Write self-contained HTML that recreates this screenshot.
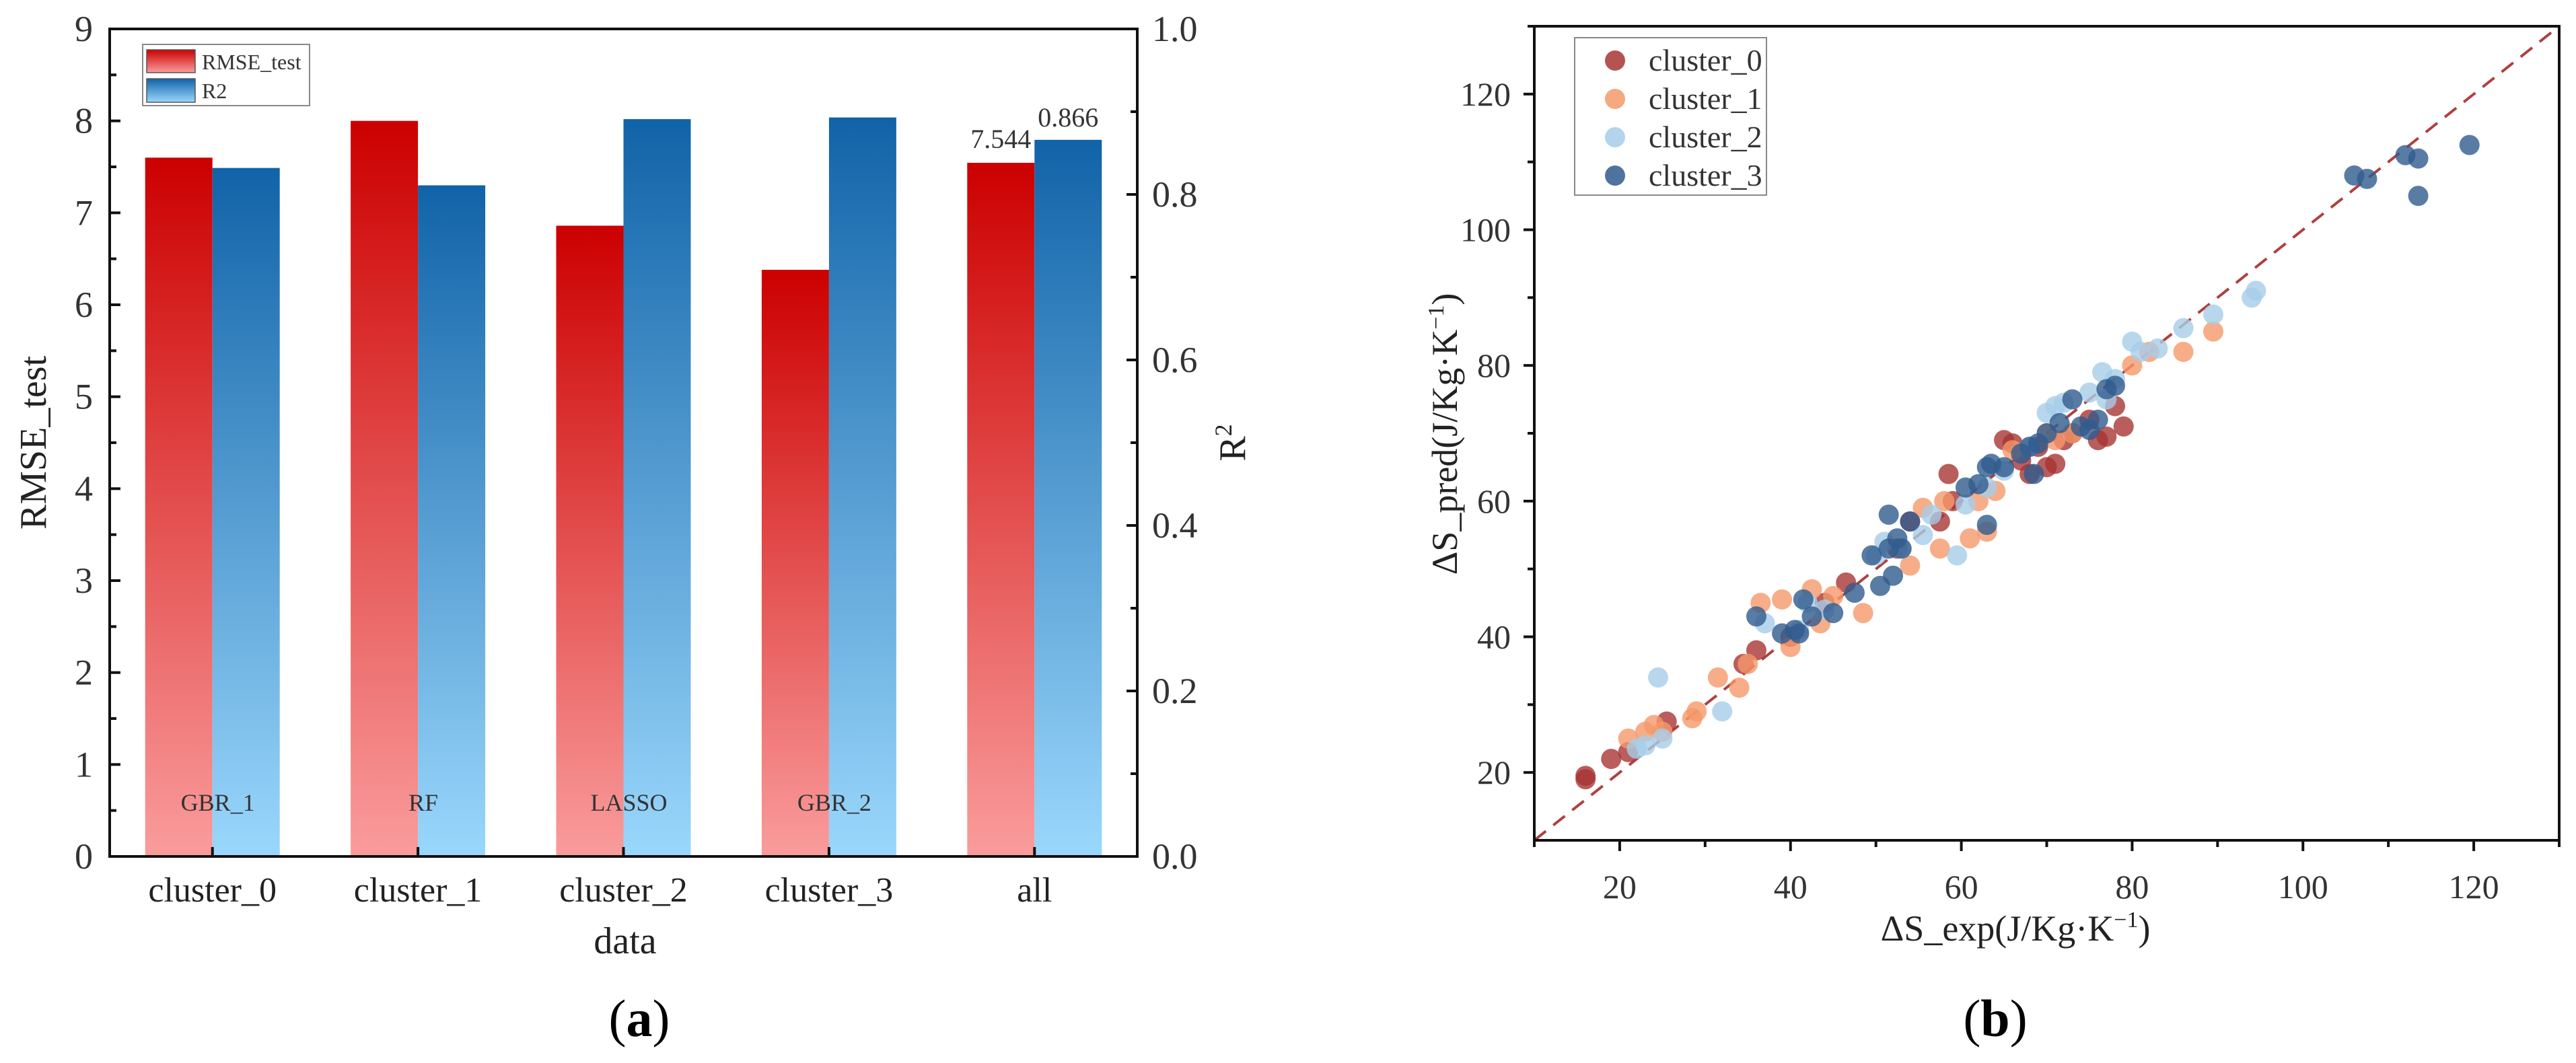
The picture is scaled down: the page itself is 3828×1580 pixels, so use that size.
<!DOCTYPE html>
<html><head><meta charset="utf-8"><style>
html,body{margin:0;padding:0;background:#fff;}
svg{display:block;font-family:"Liberation Serif",serif;}
</style></head><body>
<svg id="root" width="3828" height="1580" viewBox="0 0 3828 1580" xmlns="http://www.w3.org/2000/svg">
<defs>
<linearGradient id="gRed" x1="0" y1="0" x2="0" y2="1"><stop offset="0" stop-color="#cc0000"/><stop offset="1" stop-color="#fa9c9c"/></linearGradient>
<linearGradient id="gBlue" x1="0" y1="0" x2="0" y2="1"><stop offset="0" stop-color="#1163a8"/><stop offset="1" stop-color="#9ad7fc"/></linearGradient>
</defs>
<g id="chartA"></g>
<g id="chartB"></g>
<text x="950" y="1540" font-size="78" text-anchor="middle">(<tspan font-weight="bold">a</tspan>)</text>
<text x="2965" y="1540" font-size="78" text-anchor="middle">(<tspan font-weight="bold">b</tspan>)</text>
</svg>
<script>
// ---- Chart A data ----
const categories = ["cluster_0","cluster_1","cluster_2","cluster_3","all"];
const modelLabels = ["GBR_1","RF","LASSO","GBR_2",""];
const rmseValues = [7.6, 8.0, 6.86, 6.38, 7.544];
const r2Values = [0.832, 0.811, 0.891, 0.893, 0.866];
const leftTicks = [0,1,2,3,4,5,6,7,8,9];
const rightTicks = ["0.0","0.2","0.4","0.6","0.8","1.0"];

// ---- Chart B data ----
const c0x=[16,16,19,21,25.5,34.5,36,40,46.5,52.5,57.5,58.5,59,65,66,67,68,70,71,72,73,76,77,78,79,75,69,54,44];
const c0y=[19.5,19,22,23,27.5,36,38,40,48,53,57,64,60,69,68.5,66,64,65,65.5,69,70,69,69.5,74,71,72,68,57,45];
const c1x=[21,23,24,25,28.5,29,31.5,34,35,36.5,39,40,42.5,43.5,48.5,45,54,55.5,57.5,58,61,63,64,62,66,70,73,80,86,89.5,82,71];
const c1y=[25,26,27,26,28,29,34,32.5,36,45,45.5,38.5,47,42,43.5,46,50.5,59,53,60,54.5,55.5,61.5,60,67.5,70,70,80,82,85,82,69];
const c2x=[22,23,24.5,25,32,37,41,42,44,50,51,53,55.5,56.5,59.5,60.5,63,65,68,71,72,75,76.5,78,80,81,83,86,89.5,94,94.5,77,70];
const c2y=[23.5,24,34,25,29,42,41,45,44,52,54,53,55,58,52,59.5,62,64.5,68,74,74.5,76,79,78,83.5,82,82.5,85.5,87.5,90,91,75,73];
const c3x=[36,39,40.5,41,41.5,42.5,45,47.5,49.5,50.5,51.5,51.5,52,52.5,53,54,60.5,62,63,63.5,63,65,67,68,68.5,69,70,71.5,73,74,75,76,77,78,106,107.5,112,113.5,113.5,119.5];
const c3y=[43,40.5,41,40.5,45.5,43,43.5,46.5,52,47.5,58,53,49,54.5,53,57,62,62.5,65,65.5,56.5,65,67,68,64,68.5,70,71.5,75,71,70.5,72,76.5,77,108,107.5,111,110.5,105,112.5];
const clusterNames=["cluster_0","cluster_1","cluster_2","cluster_3"];
const bTicks=[20,40,60,80,100,120];

const NS="http://www.w3.org/2000/svg";
function mk(parent,tag,attrs,text){const e=document.createElementNS(NS,tag);for(const k in attrs)e.setAttribute(k,attrs[k]);if(text!==undefined)e.textContent=text;parent.appendChild(e);return e;}

// ===== Chart A =====
const A=document.getElementById('chartA');
const aL=163,aR=1690,aT=43,aB=1273;
const yL=v=>aB-(v/9)*(aB-aT);
const yR=v=>aB-v*(aB-aT);
const band=(aR-aL)/categories.length;
const xC=i=>aL+band*(i+0.5);
const bw=100;
categories.forEach((c,i)=>{
  const r=mk(A,'rect',{x:xC(i)-bw,y:yL(rmseValues[i]),width:bw,height:aB-yL(rmseValues[i]),fill:'url(#gRed)'});
  
  
  const b=mk(A,'rect',{x:xC(i),y:yR(r2Values[i]),width:bw,height:aB-yR(r2Values[i]),fill:'url(#gBlue)'});
  
  
  const t=mk(A,'text',{x:xC(i),y:1340,'font-size':52,'text-anchor':'middle',fill:'#222'},c);
  
  
  if(modelLabels[i]){const m=mk(A,'text',{x:xC(i)+8,y:1205,'font-size':36,'text-anchor':'middle',fill:'#333'},modelLabels[i]);
  
  }
  mk(A,'line',{x1:xC(i),x2:xC(i),y1:aB,y2:aB-14,stroke:'#111','stroke-width':4});
});
const lastI=categories.length-1;
const va=mk(A,'text',{x:xC(lastI)-bw/2,y:yL(rmseValues[lastI])-22,'font-size':40,'text-anchor':'middle',fill:'#333'},rmseValues[lastI].toFixed(3));


const vb=mk(A,'text',{x:xC(lastI)+bw/2,y:yR(r2Values[lastI])-20,'font-size':40,'text-anchor':'middle',fill:'#333'},r2Values[lastI].toFixed(3));


// frame
const fa=mk(A,'rect',{x:aL,y:aT,width:aR-aL,height:aB-aT,fill:'none',stroke:'#111','stroke-width':4});


leftTicks.forEach(v=>{
  mk(A,'line',{x1:aL,x2:aL+16,y1:yL(v),y2:yL(v),stroke:'#111','stroke-width':4});
  if(v<9)mk(A,'line',{x1:aL,x2:aL+10,y1:yL(v+0.5),y2:yL(v+0.5),stroke:'#111','stroke-width':4});
  const t=mk(A,'text',{x:138,y:yL(v)+18,'font-size':54,'text-anchor':'end',fill:'#333'},String(v));
  
  
});
rightTicks.forEach((s,i)=>{
  const v=parseFloat(s);
  mk(A,'line',{x1:aR,x2:aR-16,y1:yR(v),y2:yR(v),stroke:'#111','stroke-width':4});
  if(v<1)mk(A,'line',{x1:aR,x2:aR-10,y1:yR(v+0.1),y2:yR(v+0.1),stroke:'#111','stroke-width':4});
  const t=mk(A,'text',{x:1712,y:yR(v)+18,'font-size':54,fill:'#333'},s);
  
  
});
const yt=mk(A,'text',{x:0,y:0,'font-size':56,'text-anchor':'middle',fill:'#222',transform:'translate(68,658) rotate(-90)'},'RMSE_test');


const rt=mk(A,'text',{x:0,y:0,'font-size':56,'text-anchor':'middle',fill:'#222',transform:'translate(1850,658) rotate(-90)'});
rt.innerHTML='R<tspan dy="-20" font-size="36">2</tspan>';


const xt=mk(A,'text',{x:929,y:1417,'font-size':56,'text-anchor':'middle',fill:'#222'},'data');


// legend
const lg=mk(A,'g',{});


mk(lg,'rect',{x:212,y:66,width:248,height:91,fill:'#fff',stroke:'#888','stroke-width':2});
mk(lg,'rect',{x:218,y:74,width:72,height:34,fill:'url(#gRed)',stroke:'#555','stroke-width':1.5});
mk(lg,'rect',{x:218,y:117,width:72,height:35,fill:'url(#gBlue)',stroke:'#555','stroke-width':1.5});
const l1=mk(lg,'text',{x:300,y:103,'font-size':32,fill:'#333'},'RMSE_test');


const l2=mk(lg,'text',{x:300,y:146,'font-size':32,fill:'#333'},'R2');



// ===== Chart B =====
const B=document.getElementById('chartB');
const bL=2280,bR=3803,bT=39,bBot=1249;
const sx=v=>bL+(v-10)/120*(bR-bL);
const sy=v=>bBot-(v-10)/120*(bBot-bT);
const colors=['#a83434','#f5996a','#a6cde8','#2f5b8d'];
const dl=mk(B,'line',{x1:sx(10),y1:sy(10),x2:sx(130),y2:sy(130),stroke:'#b04040','stroke-width':4,'stroke-dasharray':'22 14'});


[[c0x,c0y],[c1x,c1y],[c2x,c2y],[c3x,c3y]].forEach((s,k)=>{
  s[0].forEach((xv,i)=>{
    const c=mk(B,'circle',{cx:sx(xv),cy:sy(s[1][i]),r:15,fill:colors[k],'fill-opacity':0.8});
    
    
  });
});
const fb=mk(B,'rect',{x:bL,y:bT,width:bR-bL,height:bBot-bT,fill:'none',stroke:'#111','stroke-width':4});


bTicks.forEach(v=>{
  mk(B,'line',{x1:sx(v),x2:sx(v),y1:bBot,y2:bBot+16,stroke:'#111','stroke-width':4});
  mk(B,'line',{x1:sx(v+10),x2:sx(v+10),y1:bBot,y2:bBot+10,stroke:'#111','stroke-width':4});
  mk(B,'line',{x1:bL,x2:bL-16,y1:sy(v),y2:sy(v),stroke:'#111','stroke-width':4});
  mk(B,'line',{x1:bL,x2:bL-10,y1:sy(v+10),y2:sy(v+10),stroke:'#111','stroke-width':4});
  const tx=mk(B,'text',{x:sx(v),y:1335,'font-size':50,'text-anchor':'middle',fill:'#333'},String(v));
  
  
  const ty=mk(B,'text',{x:2245,y:sy(v)+17,'font-size':50,'text-anchor':'end',fill:'#333'},String(v));
  
  
});
mk(B,'line',{x1:sx(10),x2:sx(10),y1:bBot,y2:bBot+10,stroke:'#111','stroke-width':4});
const bx=mk(B,'text',{x:2995,y:1398,'font-size':54,'text-anchor':'middle',fill:'#222'});
bx.innerHTML='ΔS_exp(J/Kg·K<tspan dy="-20" font-size="34">−1</tspan><tspan dy="20">)</tspan>';


const by=mk(B,'text',{x:0,y:0,'font-size':54,'text-anchor':'middle',fill:'#222',transform:'translate(2165,645) rotate(-90)'});
by.innerHTML='ΔS_pred(J/Kg·K<tspan dy="-20" font-size="34">−1</tspan><tspan dy="20">)</tspan>';


const lb=mk(B,'g',{});


mk(lb,'rect',{x:2340,y:56,width:285,height:234,fill:'#fff',stroke:'#888','stroke-width':2});
clusterNames.forEach((n,k)=>{
  const yy=90+k*57;
  mk(lb,'circle',{cx:2400,cy:yy,r:15,fill:colors[k],'fill-opacity':0.85});
  const t=mk(lb,'text',{x:2450,y:yy+15,'font-size':46,fill:'#333'},n);
  
  
});
</script>
</body></html>
